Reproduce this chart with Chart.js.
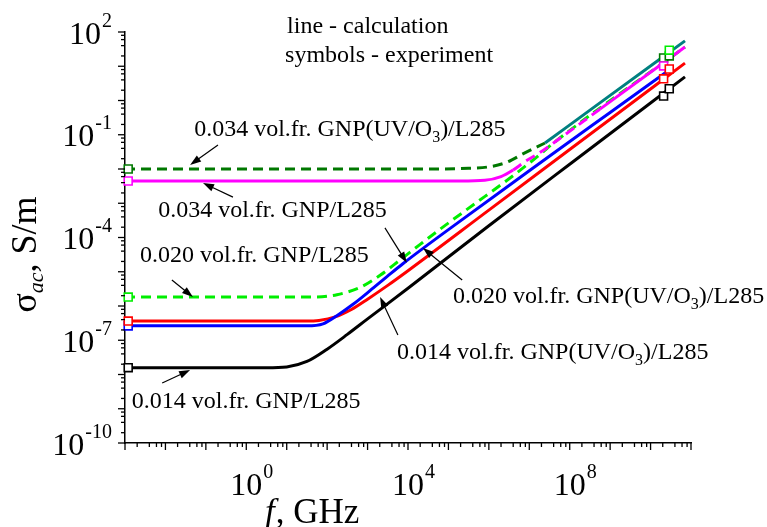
<!DOCTYPE html>
<html>
<head>
<meta charset="utf-8">
<script src="https://cdn.jsdelivr.net/npm/chart.js@4.4.0/dist/chart.umd.min.js"></script>
<style>
  html, body { margin: 0; padding: 0; background: #fff; }
  #wrap { width: 767px; height: 527px; }
</style>
</head>
<body>
<div id="wrap"><canvas id="chart" width="767" height="527"></canvas></div>
<script>
// frequency f (GHz) and conductivity sigma_ac (S/m)
const blackF  = [1e-3, 3.16, 10, 31.6, 100, 316, 1000, 1e4, 1e6, 1e8, 7.1e10];
const blackS  = [1.58e-8, 1.58e-8, 1.66e-8, 2.4e-8, 5.5e-8, 1.48e-7, 4.2e-7, 3.3e-6, 2.2e-4, 1.38e-2, 4.9];

const redF    = [1e-3, 31.6, 63, 158, 398, 1000, 3160, 1e4, 1e6, 1e8, 7.1e10];
const redS    = [3.63e-7, 3.63e-7, 3.8e-7, 4.8e-7, 7.9e-7, 1.58e-6, 4.0e-6, 1.07e-5, 6.3e-4, 3.7e-2, 12.3];

const blueF   = [1e-3, 31.6, 79, 174, 437, 1150, 3020, 7590, 1e5, 1e7, 1e9, 3.4e10];
const blueS   = [2.63e-7, 2.63e-7, 3.0e-7, 5.2e-7, 1.12e-6, 2.8e-6, 7.2e-6, 1.74e-5, 1.7e-4, 8.9e-3, 0.447, 8.9];

const lgreenF = [1e-3, 39.8, 174, 646, 2040, 6310, 2e4, 6.17e4, 4.07e5, 2.82e6, 1.82e7, 3.98e7, 7.1e10];
const lgreenS = [1.82e-6, 1.82e-6, 2.14e-6, 3.47e-6, 7.9e-6, 2.19e-5, 6.3e-5, 1.74e-4, 8.9e-4, 4.7e-3, 2.63e-2, 5.75e-2, 36.3];

const magF    = [1e-3, 2e5, 7.94e5, 2e6, 3.98e6, 7.94e6, 1.82e7, 3.98e7, 5.6e8, 7.1e10];
const magS    = [4.47e-3, 4.47e-3, 4.68e-3, 6.0e-3, 9.3e-3, 1.66e-2, 3.0e-2, 5.75e-2, 0.56, 36.3];

const dgreenF = [1e-3, 3.16e4, 3.16e5, 1.07e6, 2.82e6, 6.92e6, 2.45e7];
const dgreenS = [1e-2, 1e-2, 1.05e-2, 1.17e-2, 1.58e-2, 2.75e-2, 5.75e-2];

const tealF   = [2.45e7, 1e9, 7.1e10];
const tealS   = [5.75e-2, 1.41, 55];

// experiment (symbols)
const expLowF  = 1.2e-3;
const expHighF = [2.1e10, 2.9e10];
const expBlack  = [[expLowF, 1.58e-8], [expHighF[0], 1.35], [expHighF[1], 2.2]];
const expRed    = [[expLowF, 3.63e-7], [expHighF[0], 4.3], [expHighF[1], 8.3]];
const expBlue   = [[expLowF, 2.63e-7]];
const expLgreen = [[expLowF, 1.82e-6], [expHighF[1], 29.5]];
const expMag    = [[expLowF, 4.47e-3], [expHighF[0], 10.2]];
const expDgreen = [[expLowF, 1e-2], [expHighF[0], 17.4], [expHighF[1], 20]];

// axis labels (powers of ten)
const xLabelExp = [0, 4, 8];
const yLabelExp = [2, -1, -4, -7, -10];
const minorMult = [2, 4, 6, 8];

// annotations, positions as [log10 f, log10 sigma]
const noteText = [
  '0.034 vol.fr. GNP(UV/O_3)/L285',
  '0.034 vol.fr. GNP/L285',
  '0.020 vol.fr. GNP/L285',
  '0.020 vol.fr. GNP(UV/O_3)/L285',
  '0.014 vol.fr. GNP(UV/O_3)/L285',
  '0.014 vol.fr. GNP/L285',
  'line - calculation',
  'symbols - experiment'
];
const notePos = [[-1.29, -1.04], [-2.18, -3.40], [-2.63, -4.72], [5.11, -5.91],
                 [3.73, -7.55], [-2.83, -8.98], [1.01, 1.97], [0.96, 1.12]];
const arrowFrom = [[-0.70, -1.30], [-0.33, -2.82], [-1.84, -5.24], [3.43, -3.72],
                   [5.34, -5.24], [3.75, -6.85], [-2.08, -8.25]];
const arrowTo   = [[-1.39, -1.88], [-1.07, -2.41], [-1.32, -5.74], [3.97, -4.74],
                   [4.37, -4.31], [3.31, -5.74], [-1.39, -7.87]];

const SERIF = '"Liberation Serif", "Times New Roman", serif';

const pts = (f, s) => f.map((x, i) => ({ x, y: s[i] }));

const line = (f, s, color, order, dash) => ({
  type: 'line',
  data: pts(f, s),
  borderColor: color,
  borderWidth: 3,
  borderDash: dash || [],
  pointRadius: 0,
  cubicInterpolationMode: 'monotone',
  fill: false,
  order
});

const symbols = (list, color) => ({
  type: 'line',
  data: list.map(p => ({ x: p[0], y: p[1] })),
  showLine: false,
  pointStyle: 'rect',
  pointRadius: 5.6,
  pointBorderWidth: 1.6,
  pointBorderColor: color,
  pointBackgroundColor: '#fff',
  clip: false,
  order: 1
});

const magDash = [10, 6];
const magDashFrom = 3.98e6, magDashTo = 5.6e8;

const datasets = [
  line(blackF, blackS, '#000000', 9),
  line(redF, redS, '#ff0000', 8),
  line(blueF, blueS, '#0000ff', 7),
  line(lgreenF, lgreenS, '#00ee00', 6, [10, 6]),
  line(dgreenF, dgreenS, '#007800', 5, [10, 6]),
  Object.assign(line(magF, magS, '#ff00ff', 4), {
    segment: {
      borderDash: c => (c.p0.parsed.x >= magDashFrom && c.p1.parsed.x <= magDashTo) ? magDash : undefined
    }
  }),
  line(tealF, tealS, '#008080', 3),
  symbols(expBlack, '#000000'),
  symbols(expRed, '#ff0000'),
  symbols(expBlue, '#0000ff'),
  symbols(expMag, '#ff00ff'),
  symbols(expLgreen, '#00ee00'),
  symbols(expDgreen, '#007800')
];

function powLabel(ctx, e, x0, base) {
  ctx.font = '32px ' + SERIF;
  const w = ctx.measureText('10').width;
  ctx.fillText('10', x0, base);
  ctx.font = '20px ' + SERIF;
  ctx.fillText(String(e), x0 + w + 1, base - 17);
}
function powWidth(ctx, e) {
  ctx.font = '32px ' + SERIF;
  const w = ctx.measureText('10').width;
  ctx.font = '20px ' + SERIF;
  return { base: w, total: w + 1 + ctx.measureText(String(e)).width };
}

// text with one-character subscripts written as _x
function subText(ctx, txt, x0, base, size) {
  const parts = txt.split('_');
  let x = x0;
  parts.forEach((p, i) => {
    let rest = p;
    if (i > 0) {
      ctx.font = Math.round(size * 0.65) + 'px ' + SERIF;
      ctx.fillText(p[0], x, base + 6);
      x += ctx.measureText(p[0]).width;
      rest = p.slice(1);
    }
    ctx.font = size + 'px ' + SERIF;
    ctx.fillText(rest, x, base);
    x += ctx.measureText(rest).width;
  });
}

function arrow(ctx, x1, y1, x2, y2) {
  const ang = Math.atan2(y2 - y1, x2 - x1);
  const L = 11, W = 3.8;
  ctx.lineWidth = 1.2;
  ctx.beginPath();
  ctx.moveTo(x1, y1);
  ctx.lineTo(x2 - Math.cos(ang) * L * 0.8, y2 - Math.sin(ang) * L * 0.8);
  ctx.stroke();
  ctx.beginPath();
  ctx.moveTo(x2, y2);
  ctx.lineTo(x2 - L * Math.cos(ang) + W * Math.sin(ang), y2 - L * Math.sin(ang) - W * Math.cos(ang));
  ctx.lineTo(x2 - L * Math.cos(ang) - W * Math.sin(ang), y2 - L * Math.sin(ang) + W * Math.cos(ang));
  ctx.closePath();
  ctx.fill();
}

const decor = {
  id: 'decor',
  afterDraw(chart) {
    const { ctx, chartArea: a, scales: { x, y } } = chart;
    const X = e => x.getPixelForValue(Math.pow(10, e));
    const Y = e => y.getPixelForValue(Math.pow(10, e));
    ctx.save();
    ctx.fillStyle = '#000';
    ctx.strokeStyle = '#000';
    ctx.textBaseline = 'alphabetic';

    // tick marks
    ctx.lineWidth = 1.3;
    const xLo = Math.round(Math.log10(x.min)), xHi = Math.round(Math.log10(x.max));
    for (let e = xLo; e <= xHi; e++) {
      const px = X(e);
      ctx.beginPath(); ctx.moveTo(px, a.bottom); ctx.lineTo(px, a.bottom + 7); ctx.stroke();
      if (e === xHi) break;
      minorMult.forEach(m => {
        const q = x.getPixelForValue(m * Math.pow(10, e));
        ctx.beginPath(); ctx.moveTo(q, a.bottom); ctx.lineTo(q, a.bottom + 4); ctx.stroke();
      });
    }
    const yLo = Math.round(Math.log10(y.min)), yHi = Math.round(Math.log10(y.max));
    for (let e = yLo; e <= yHi; e++) {
      const py = Y(e);
      ctx.beginPath(); ctx.moveTo(a.left, py); ctx.lineTo(a.left - 7, py); ctx.stroke();
      if (e === yHi) break;
      minorMult.forEach(m => {
        const q = y.getPixelForValue(m * Math.pow(10, e));
        ctx.beginPath(); ctx.moveTo(a.left, q); ctx.lineTo(a.left - 4, q); ctx.stroke();
      });
    }

    // tick labels
    xLabelExp.forEach(e => {
      const w = powWidth(ctx, e);
      powLabel(ctx, e, X(e) - w.base / 2, a.bottom + 52);
    });
    yLabelExp.forEach(e => {
      const w = powWidth(ctx, e);
      powLabel(ctx, e, a.left - 13 - w.total, Y(e) + 11.5);
    });

    // axis titles
    ctx.font = 'italic 35px ' + SERIF;
    let tx = a.left + 140;
    const tb = a.bottom + 80;
    ctx.fillText('f', tx, tb);
    tx += ctx.measureText('f').width + 1;
    ctx.font = '35px ' + SERIF;
    ctx.fillText(', GHz', tx, tb);

    ctx.save();
    ctx.translate(36, (a.top + a.bottom) / 2 + 17);
    ctx.rotate(-Math.PI / 2);
    ctx.font = '36px ' + SERIF;
    const w1 = ctx.measureText('\u03c3').width;
    ctx.font = 'italic 22px ' + SERIF;
    const w2 = ctx.measureText('ac').width;
    ctx.font = '36px ' + SERIF;
    const w3 = ctx.measureText(', S/m').width;
    let sx = -(w1 + w2 + w3) / 2;
    ctx.fillText('\u03c3', sx, 0); sx += w1;
    ctx.font = 'italic 22px ' + SERIF;
    ctx.fillText('ac', sx, 7); sx += w2;
    ctx.font = '36px ' + SERIF;
    ctx.fillText(', S/m', sx, 0);
    ctx.restore();

    // notes and arrows
    noteText.forEach((t, i) => subText(ctx, t, X(notePos[i][0]), Y(notePos[i][1]), 24));
    arrowFrom.forEach((p, i) => arrow(ctx, X(p[0]), Y(p[1]), X(arrowTo[i][0]), Y(arrowTo[i][1])));
    ctx.restore();
  }
};

new Chart(document.getElementById('chart'), {
  type: 'line',
  data: { datasets },
  options: {
    responsive: false,
    animation: false,
    layout: { padding: { top: 32, right: 76, left: 0, bottom: 0 } },
    plugins: { legend: { display: false }, tooltip: { enabled: false } },
    scales: {
      x: {
        type: 'logarithmic',
        min: 1e-3,
        max: 1e11,
        grid: { display: false },
        border: { display: true, color: '#000', width: 1.5 },
        ticks: { display: false },
        afterFit: s => { s.height = 84; }
      },
      y: {
        type: 'logarithmic',
        min: 1e-10,
        max: 1e2,
        grid: { display: false },
        border: { display: true, color: '#000', width: 1.5 },
        ticks: { display: false },
        afterFit: s => { s.width = 125; }
      }
    }
  },
  plugins: [decor]
});
</script>
</body>
</html>
